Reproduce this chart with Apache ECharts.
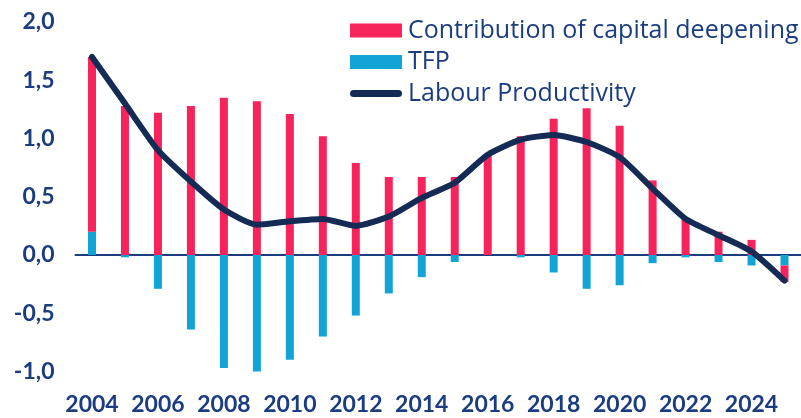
<!DOCTYPE html>
<html><head><meta charset="utf-8">
<script src="https://cdn.jsdelivr.net/npm/echarts@6/dist/echarts.min.js"></script>
<style>html,body{margin:0;padding:0;background:#fff}#c{width:801px;height:418px}</style>
</head><body><div id="c"></div>
<script>
const years = ['2004','2005','2006','2007','2008','2009','2010','2011','2012','2013','2014','2015','2016','2017','2018','2019','2020','2021','2022','2023','2024','2025'];
const capital = [1.50,1.28,1.22,1.28,1.35,1.32,1.21,1.02,0.79,0.67,0.67,0.67,0.86,1.02,1.17,1.26,1.11,0.64,0.31,0.20,0.13,-0.14];
const tfp = [0.20,-0.02,-0.29,-0.64,-0.97,-1.01,-0.90,-0.70,-0.52,-0.33,-0.19,-0.06,0.00,-0.02,-0.15,-0.29,-0.26,-0.07,-0.02,-0.06,-0.09,-0.09];
const labour = [1.70,1.30,0.90,0.63,0.39,0.26,0.29,0.31,0.25,0.33,0.49,0.62,0.86,0.99,1.03,0.97,0.84,0.57,0.31,0.17,0.03,-0.22];
const names = ['Contribution of capital deepening','TFP','Labour Productivity'];
const navy = '#1b3d7f';
const lineColor = '#142b55';
const chart = echarts.init(document.getElementById('c'));
chart.setOption({
  animation: false,
  grid: {left: 75.5, right: -4.9, top: 22, bottom: 46.5, containLabel: false},
  legend: {
    left: 350, top: 18, orient: 'vertical', padding: 0, itemGap: 6.5,
    itemWidth: 52, itemHeight: 14,
    textStyle: {fontFamily: 'Open Sans', fontSize: 25, fontWeight: 500, color: navy, lineHeight: 22, padding: [0, 0, 0, 1]},
    data: [
      {name: names[0], icon: 'rect'},
      {name: names[1], icon: 'rect'},
      {name: names[2], icon: 'path://M0,0 M52,14 M3.5,3.5 L48.5,3.5 A3.5,3.5 0 0 1 48.5,10.5 L3.5,10.5 A3.5,3.5 0 0 1 3.5,3.5 Z'}
    ]
  },
  xAxis: {
    type: 'category', data: years, boundaryGap: true,
    axisLine: {show: true, onZero: true, lineStyle: {color: navy, width: 2}},
    axisTick: {show: false},
    axisLabel: {interval: 1, color: navy, fontFamily: 'Lato', fontWeight: 'bold', fontSize: 23, margin: 22},
    position: 'bottom'
  },
  yAxis: {
    type: 'value', min: -1, max: 2, interval: 0.5,
    splitLine: {show: false}, axisLine: {show: false}, axisTick: {show: false},
    axisLabel: {color: navy, fontFamily: 'Lato', fontWeight: 'bold', fontSize: 23, margin: 21,
      formatter: v => v.toFixed(1).replace('.', ',')}
  },
  series: [
    {name: names[1], type: 'bar', stack: 's', data: tfp, barWidth: 8, itemStyle: {color: '#13a4d6'}},
    {name: names[0], type: 'bar', stack: 's', data: capital, barWidth: 8, itemStyle: {color: '#f7245b'}},
    {name: names[2], type: 'line', data: labour, symbol: 'none', smooth: 0.2,
      lineStyle: {color: lineColor, width: 6, cap: 'round', join: 'round'}, itemStyle: {color: lineColor}, z: 5}
  ]
});
</script></body></html>
